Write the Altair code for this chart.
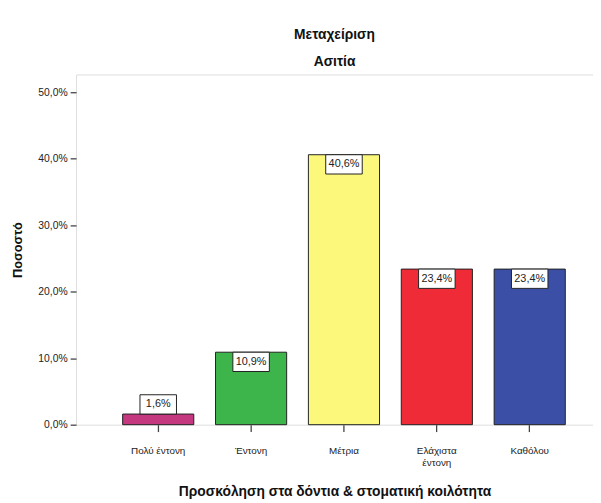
import altair as alt
import pandas as pd

categories = ["Πολύ έντονη", "Έντονη", "Μέτρια", "Ελάχιστα έντονη", "Καθόλου"]
values = [1.6, 10.9, 40.6, 23.4, 23.4]
colors = ["#c4387f", "#3db54a", "#fbf87c", "#ee2b36", "#3a4fa5"]

df = pd.DataFrame({"cat": categories, "val": values, "col": colors})
FONT = "Liberation Sans"

xenc = alt.X(
    "cat:N", sort=categories,
    scale=alt.Scale(paddingInner=0.234, paddingOuter=0.4, align=0.627),
    axis=alt.Axis(
        title="Προσκόληση στα δόντια & στοματική κοιλότητα",
        labelAngle=0, labelFontSize=10, labelColor="#222", labelPadding=14,
        labelExpr="datum.label == 'Ελάχιστα έντονη' ? ['Ελάχιστα', 'έντονη'] : datum.label",
        labelLineHeight=12,
        tickSize=7, tickColor="#444", tickWidth=1.3, domain=False,
        titleFontSize=14, titleFontWeight="bold", titleColor="#111", titlePadding=18,
    ),
)
yscale = alt.Scale(domain=[0, 52.67], nice=False)

bars = alt.Chart(df).mark_bar(stroke="#222", strokeWidth=1).encode(
    x=xenc,
    y=alt.Y("val:Q", scale=yscale, axis=alt.Axis(
        title="Ποσοστό", values=[0, 10, 20, 30, 40, 50],
        labelExpr="replace(format(datum.value, '.1f'), '.', ',') + '%'",
        labelFontSize=10.5, labelColor="#222", labelPadding=3,
        tickSize=6, tickColor="#444", tickWidth=1.3, domain=False, grid=False,
        titleFontSize=13, titleFontWeight="bold", titleColor="#111", titlePadding=14,
    )),
    color=alt.Color("col:N", scale=None),
)

boxbase = alt.Chart(df).transform_calculate(
    top="datum.val < 5 ? datum.val + 2.9 : datum.val",
).transform_calculate(
    bot="datum.top - 2.9", mid="datum.top - 1.45",
    txt="replace(format(datum.val, '.1f'), '.', ',') + '%'",
)

boxes = boxbase.mark_bar(size=37, fill="white", stroke="#222", strokeWidth=1).encode(
    x=alt.X("cat:N", sort=categories),
    y=alt.Y("top:Q", scale=yscale),
    y2="bot:Q",
)
texts = boxbase.mark_text(fontSize=11, color="#222", baseline="middle", font=FONT).encode(
    x=alt.X("cat:N", sort=categories),
    y=alt.Y("mid:Q", scale=yscale),
    text="txt:N",
)

chart = alt.layer(bars, boxes, texts).properties(
    width=524, height=355,
    title=alt.TitleParams(["Μεταχείριση", "Ασιτία"], fontSize=14, fontWeight="bold",
                          color="#111", lineHeight=27, offset=6, anchor="middle", font=FONT),
    autosize=alt.AutoSizeParams(type="none"),
    padding={"left": 69, "top": 64, "right": 0, "bottom": 76},
).configure_view(
    fill="#f0f0f0", stroke="#3a3a3a", strokeWidth=2,
).configure_axis(
    labelFont=FONT, titleFont=FONT,
).configure(background="white")

chart.save("out.html", embed_options={"renderer": "svg", "actions": False})
